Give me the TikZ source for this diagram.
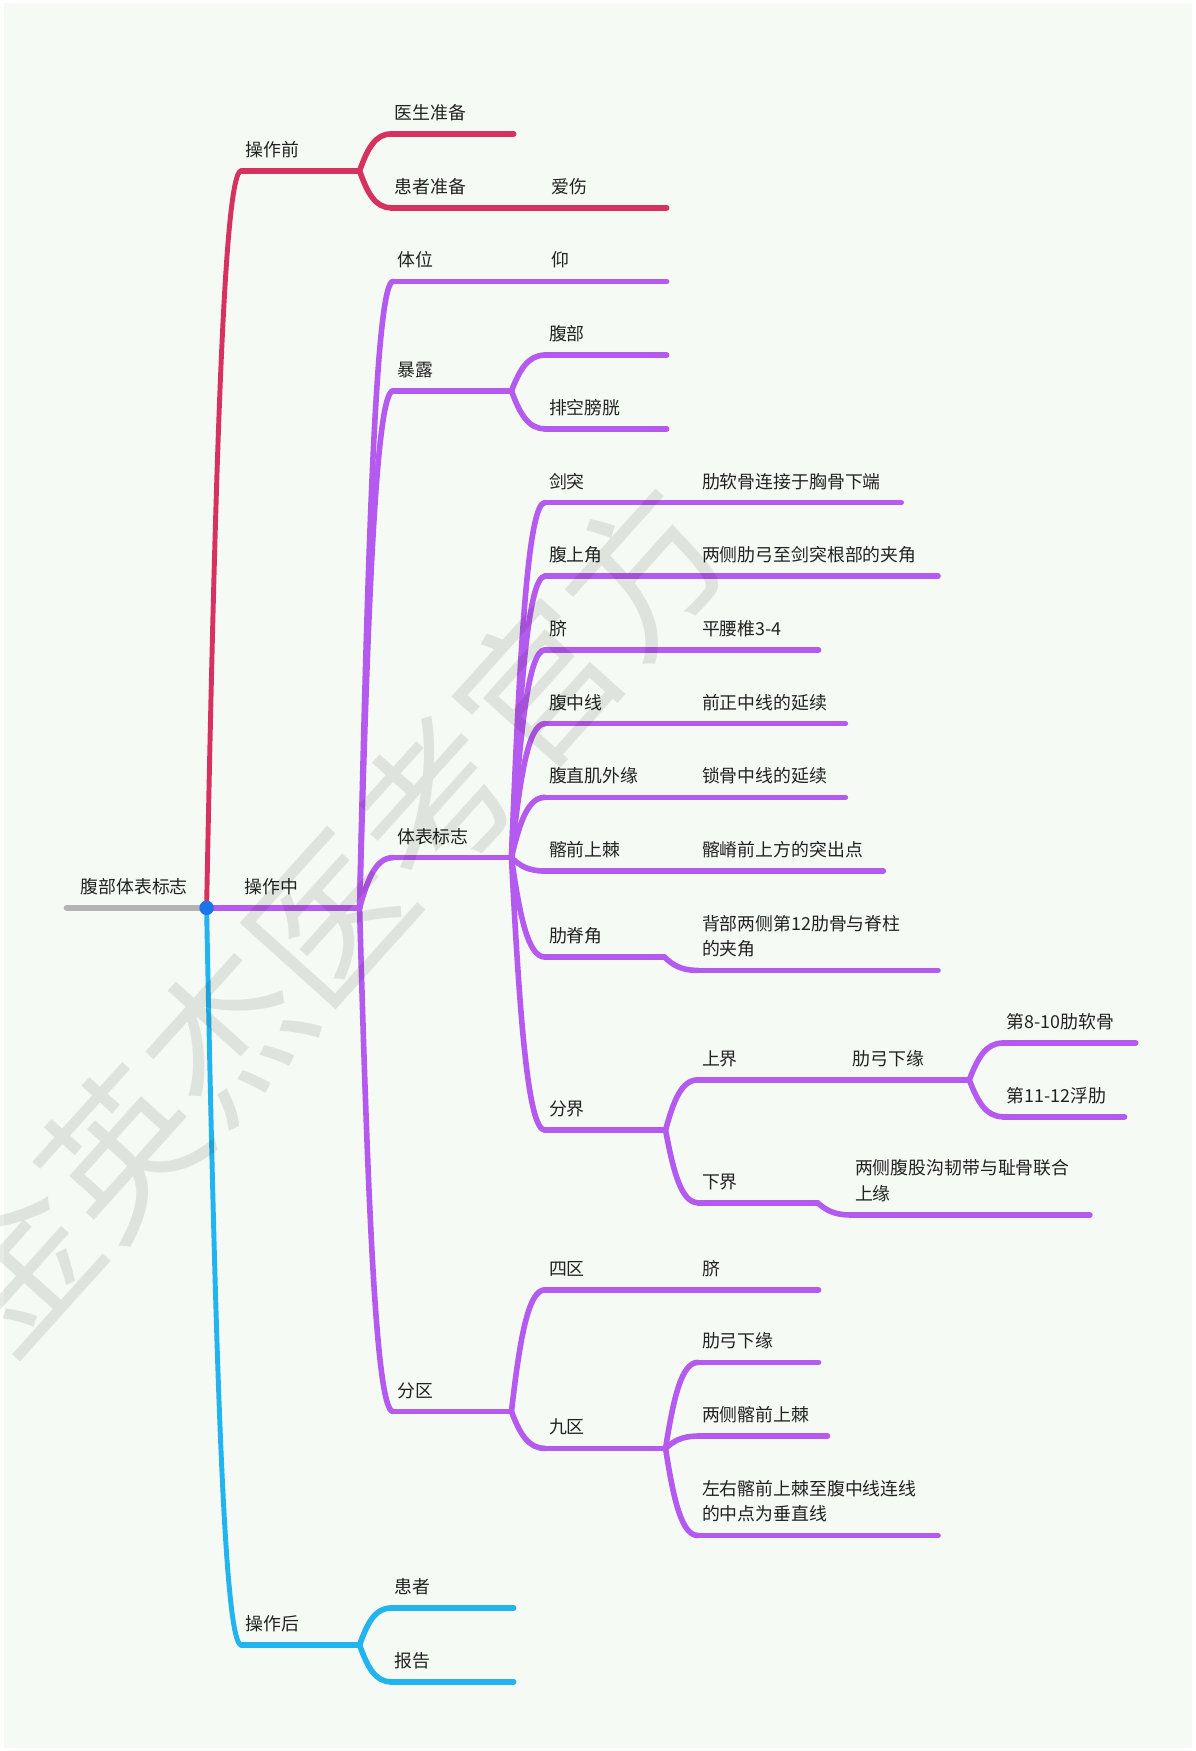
\documentclass[tikz,border=0pt]{standalone}
\usepackage{fontspec}
\setmainfont{Noto Sans CJK SC}
\usetikzlibrary{calc}
\definecolor{cred}{HTML}{D7325F}
\definecolor{cpur}{HTML}{B55AEE}
\definecolor{cblu}{HTML}{22B4EE}
\definecolor{cgry}{HTML}{B3B3B3}
\definecolor{cdot}{HTML}{1C74E9}
\definecolor{bgc}{HTML}{F5FAF5}
\definecolor{txt}{HTML}{222222}
\tikzset{
  br/.style={line width=5pt, line cap=round},
  brone/.style={line width=4.4pt, line cap=round},
  lbl/.style={anchor=base west, inner sep=0pt, font=\fontsize{16}{23}\selectfont, text=txt, align=left},
  wmark/.style={rotate=48, inner sep=0pt, font=\fontsize{140}{140}\selectfont, text=black, text opacity=0.09},
}
% topic: name, colour, x start, x end, y, text
\newcommand\tp[6]{%
  \coordinate (#1s) at (#3,#5);
  \coordinate (#1e) at (#4,#5);
  \draw[br,#2] (#1s) -- (#1e);
  \node[lbl] (#1) at ($(#1s)+(3.5,-13)$) {#6};}
% connector: style, from, to
\newcommand\cn[3]{%
  \draw[#1] let \p1=(#2), \p2=(#3) in (\p1) .. controls ({\x1+0.25*(\x2-\x1)},{\y1+0.6*(\y2-\y1)}) and ({\x1+0.5*(\x2-\x1)},{\y2}) .. (\p2);}
\begin{document}
\begin{tikzpicture}[x=1pt,y=-1pt]
\useasboundingbox (0,0) rectangle (1071,1568);
\fill[white] (0,0) rectangle (1071,1568);
\fill[bgc] (4,3) rectangle (1067,1565);

% root
\coordinate (c0) at (185,813);
\coordinate (roots) at (60,813);
\draw[line width=6pt, line cap=round, cgry] (roots) -- (c0);
\node[lbl] (root) at (72,800) {腹部体表标志};

% ---- 操作前
\tp{pre}{cred}{216}{322}{153}{操作前}
\cn{brone,cred}{c0}{pres}
\tp{doc}{cred}{350}{460}{120}{医生准备}
\tp{pat}{cred}{350}{490}{186}{患者准备}
\tp{ai}{cred}{490}{597}{186}{爱伤}
\cn{br,cred}{pree}{docs}
\cn{br,cred}{pree}{pats}

% ---- 操作中
\coordinate (mids) at (185,813);
\coordinate (mide) at (322,813);
\draw[br,cpur] (mids) -- (mide);
\node[lbl] (mid) at (219,800) {操作中};

\tp{tiwei}{cpur}{352}{490}{252}{体位}
\tp{yang}{cpur}{490}{597}{252}{仰}
\tp{baolu}{cpur}{352}{458}{350}{暴露}
\tp{fubu}{cpur}{488}{597}{318}{腹部}
\tp{paikong}{cpur}{488}{597}{384}{排空膀胱}
\tp{tb}{cpur}{352}{458}{768}{体表标志}
\tp{fq}{cpur}{352}{458}{1264}{分区}
\cn{br,cpur}{mide}{tiweis}
\cn{br,cpur}{mide}{baolus}
\cn{br,cpur}{mide}{tbs}
\cn{br,cpur}{mide}{fqs}
\cn{br,cpur}{baolue}{fubus}
\cn{br,cpur}{baolue}{paikongs}

% 体表标志 children
\tp{jt}{cpur}{488}{625}{450}{剑突}
\tp{jtb}{cpur}{625}{807}{450}{肋软骨连接于胸骨下端}
\tp{fsj}{cpur}{488}{625}{516}{腹上角}
\tp{fsjb}{cpur}{625}{840}{516}{两侧肋弓至剑突根部的夹角}
\tp{qi}{cpur}{488}{625}{582}{脐}
\tp{qib}{cpur}{625}{733}{582}{平腰椎3-4}
\tp{fzx}{cpur}{488}{625}{648}{腹中线}
\tp{fzxb}{cpur}{625}{757}{648}{前正中线的延续}
\tp{fzj}{cpur}{488}{625}{714}{腹直肌外缘}
\tp{fzjb}{cpur}{625}{757}{714}{锁骨中线的延续}
\tp{qq}{cpur}{488}{625}{780}{髂前上棘}
\tp{qqb}{cpur}{625}{791}{780}{髂嵴前上方的突出点}
\tp{ljj}{cpur}{488}{595}{857}{肋脊角}
\tp{ljjb}{cpur}{625}{840}{869}{背部两侧第12肋骨与脊柱\\的夹角}
\tp{fj}{cpur}{488}{596}{1012}{分界}
\cn{br,cpur}{tbe}{jts}
\cn{br,cpur}{tbe}{fsjs}
\cn{br,cpur}{tbe}{qis}
\cn{br,cpur}{tbe}{fzxs}
\cn{br,cpur}{tbe}{fzjs}
\cn{br,cpur}{tbe}{qqs}
\cn{br,cpur}{tbe}{ljjs}
\cn{br,cpur}{tbe}{fjs}
\cn{br,cpur}{ljje}{ljjbs}

% 分界 children
\tp{sj}{cpur}{625}{760}{967}{上界}
\tp{lgx}{cpur}{760}{868}{967}{肋弓下缘}
\tp{rta}{cpur}{898}{1017}{934}{第8-10肋软骨}
\tp{rtb}{cpur}{898}{1007}{1000}{第11-12浮肋}
\tp{xj}{cpur}{625}{732}{1077}{下界}
\tp{xjb}{cpur}{762}{976}{1088}{两侧腹股沟韧带与耻骨联合\\上缘}
\cn{br,cpur}{fje}{sjs}
\cn{br,cpur}{fje}{xjs}
\cn{br,cpur}{lgxe}{rtas}
\cn{br,cpur}{lgxe}{rtbs}
\cn{br,cpur}{xje}{xjbs}

% 分区 children
\tp{sq}{cpur}{488}{625}{1155}{四区}
\tp{sqb}{cpur}{625}{733}{1155}{脐}
\tp{jq}{cpur}{488}{596}{1297}{九区}
\tp{jqa}{cpur}{625}{733}{1220}{肋弓下缘}
\tp{jqb}{cpur}{625}{741}{1286}{两侧髂前上棘}
\tp{jqc}{cpur}{625}{840}{1375}{左右髂前上棘至腹中线连线\\的中点为垂直线}
\cn{br,cpur}{fqe}{sqs}
\cn{br,cpur}{fqe}{jqs}
\cn{br,cpur}{jqe}{jqas}
\cn{br,cpur}{jqe}{jqbs}
\cn{br,cpur}{jqe}{jqcs}

% ---- 操作后
\tp{post}{cblu}{216}{322}{1473}{操作后}
\cn{brone,cblu}{c0}{posts}
\tp{hz}{cblu}{350}{460}{1440}{患者}
\tp{bg}{cblu}{350}{460}{1506}{报告}
\cn{br,cblu}{poste}{hzs}
\cn{br,cblu}{poste}{bgs}

% centre dot
\node[circle, fill=cdot, minimum size=13pt, inner sep=0pt] (dot) at (c0) {};

% watermark
\node[wmark] (wm) at (295,822) {金英杰医考官方};
\end{tikzpicture}
\end{document}
